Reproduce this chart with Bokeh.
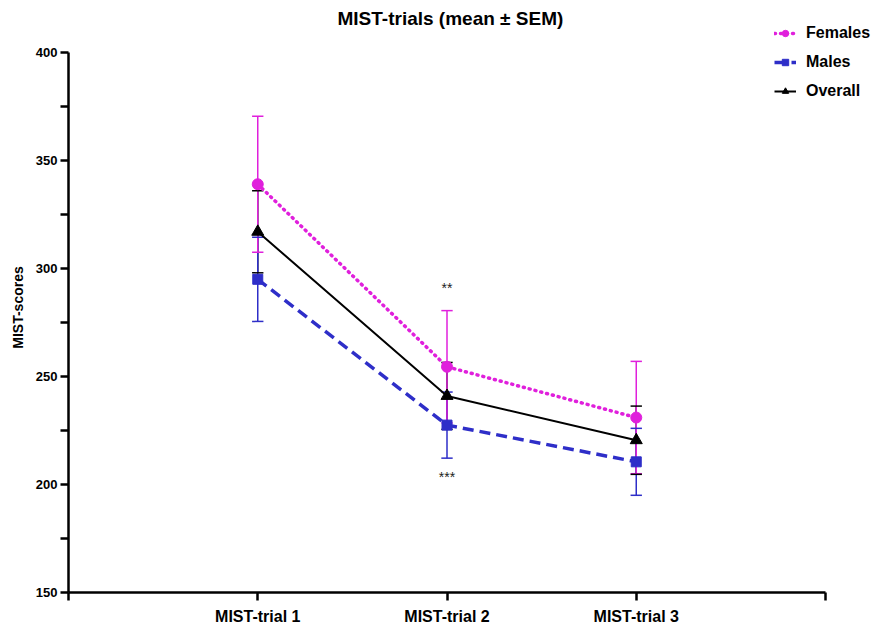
from bokeh.plotting import figure
from bokeh.models import Range1d, FixedTicker, Legend, LegendItem, ColumnDataSource
from bokeh.core.properties import value
from bokeh.embed import file_html
from bokeh.resources import INLINE

# ---- data ----
trial_labels = ["MIST-trial 1", "MIST-trial 2", "MIST-trial 3"]
trial_pos = [1, 2, 3]
females_mean = [339, 254.5, 231]
females_sem = [31.5, 26, 26]
males_mean = [295, 227.5, 210.5]
males_sem = [19.5, 15.3, 15.5]
overall_mean = [317, 241, 220.5]
overall_sem = [19, 15.5, 15.8]
sig_labels = ["**", "***"]
sig_x = [2, 2]
sig_y = [291, 203.5]

FEM = "#E020DC"
MAL = "#2E2EC8"
OVR = "#000000"
FONT = "Liberation Sans"

# ---- layout (pixels) ----
W, H = 871, 627
LEFT, RIGHT, TOP, BOTTOM = 68, 0, 22, 35
frame_w = W - LEFT - RIGHT
frame_h = H - TOP - BOTTOM
# axes span x 0..4 and y 150..400; the extra frame room holds the legend
x_px_per_unit = (825 - 68) / 4.0
y_px_per_unit = (frame_h - 30) / 250.0
x_end = frame_w / x_px_per_unit
y_end = 150 + frame_h / y_px_per_unit

p = figure(width=W, height=H, output_backend="svg", toolbar_location=None,
           x_range=Range1d(0, x_end), y_range=Range1d(150, y_end),
           min_border_left=LEFT, min_border_right=RIGHT, min_border_top=TOP, min_border_bottom=BOTTOM)
p.outline_line_color = None
p.xgrid.visible = False
p.ygrid.visible = False
p.background_fill_color = "white"

p.title.text = "MIST-trials (mean \u00b1 SEM)"
p.title.align = "left"
p.title.text_font = FONT
p.title.text_font_size = "19px"
p.title.text_font_style = "bold"
p.title.text_color = "black"
p.title.offset = 269
p.title.standoff = -12

# axes
xa = p.xaxis[0]
xa.ticker = FixedTicker(ticks=[0, 1, 2, 3, 4])
xa.bounds = (0, 4)
xa.major_label_overrides = {0: "", 1: trial_labels[0], 2: trial_labels[1], 3: trial_labels[2], 4: ""}
ya = p.yaxis[0]
ya.ticker = FixedTicker(ticks=[150, 200, 250, 300, 350, 400], minor_ticks=[175, 225, 275, 325, 375])
ya.bounds = (150, 400)
ya.axis_label = "MIST-scores"
for ax in (xa, ya):
    ax.axis_line_width = 2.5
    ax.axis_line_color = "black"
    ax.major_tick_line_width = 2.5
    ax.major_tick_line_color = "black"
    ax.minor_tick_line_width = 2.5
    ax.major_tick_out = 8
    ax.major_tick_in = 0
    ax.major_label_text_font = FONT
    ax.major_label_text_font_style = "bold"
    ax.major_label_text_color = "black"
    ax.axis_label_text_font = FONT
    ax.axis_label_text_font_style = "bold"
    ax.axis_label_text_font_size = "14px"
    ax.axis_label_text_color = "black"
xa.minor_tick_line_color = None
xa.major_label_text_font_size = "16px"
xa.major_label_standoff = 7
ya.minor_tick_line_color = "black"
ya.minor_tick_out = 8
ya.minor_tick_in = 0
ya.major_label_text_font_size = "13px"
ya.major_label_standoff = 3
ya.axis_label_standoff = 7

cap = 0.03

def err_src(mean, sem):
    return ColumnDataSource(dict(
        x=trial_pos,
        lo=[m - s for m, s in zip(mean, sem)],
        hi=[m + s for m, s in zip(mean, sem)],
        x0=[x - cap for x in trial_pos],
        x1=[x + cap for x in trial_pos],
    ))

srcs = {
    "ovr": (err_src(overall_mean, overall_sem), OVR),
    "mal": (err_src(males_mean, males_sem), MAL),
    "fem": (err_src(females_mean, females_sem), FEM),
}
for key in ("ovr", "mal", "fem"):
    s, c = srcs[key]
    p.segment(x0="x", x1="x", y0="lo", y1="hi", source=s, line_color=c, line_width=1.5)
for key in ("fem", "mal", "ovr"):
    s, c = srcs[key]
    p.segment(x0="x0", x1="x1", y0="lo", y1="lo", source=s, line_color=c, line_width=1.5)
    p.segment(x0="x0", x1="x1", y0="hi", y1="hi", source=s, line_color=c, line_width=1.5)

lf = p.line(trial_pos, females_mean, line_color=FEM, line_width=3.5, line_dash="1 5", line_cap="round")
lm = p.line(trial_pos, males_mean, line_color=MAL, line_width=3.5, line_dash="11 6")
lo = p.line(trial_pos, overall_mean, line_color=OVR, line_width=2)
mf = p.scatter(trial_pos, females_mean, marker="circle", size=11, fill_color=FEM, line_color=FEM)
mm = p.scatter(trial_pos, males_mean, marker="square", size=10, fill_color=MAL, line_color=MAL)
mo = p.scatter(trial_pos, overall_mean, marker="triangle", size=12, fill_color=OVR, line_color=OVR)

p.text(x=sig_x, y=sig_y, text=sig_labels, text_align="center", text_baseline="middle",
       text_font=value(FONT), text_font_size="14px", text_color="#222222")

legend = Legend(items=[
    LegendItem(label="Females", renderers=[lf, mf]),
    LegendItem(label="Males", renderers=[lm, mm]),
    LegendItem(label="Overall", renderers=[lo, mo]),
], location=(706, frame_h - 78))
legend.background_fill_alpha = 0
legend.border_line_color = None
legend.padding = 0
legend.margin = 0
legend.spacing = 11
legend.glyph_width = 22
legend.glyph_height = 16
legend.label_height = 16
legend.label_standoff = 10
legend.label_text_font = FONT
legend.label_text_font_style = "bold"
legend.label_text_font_size = "16px"
legend.label_text_color = "black"
legend.label_text_baseline = "middle"
p.add_layout(legend, "center")

open("out.html", "w").write(file_html(p, INLINE))
